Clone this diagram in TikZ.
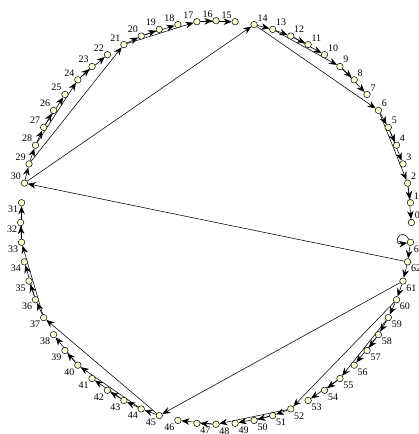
\documentclass[tikz,border=0pt]{standalone}
\usepackage{fontspec}
\setmainfont{Liberation Serif}
\usetikzlibrary{arrows.meta,backgrounds}
\definecolor{vfill}{HTML}{FFFDD8}
\tikzset{
  vtx/.style={draw, circle, fill=vfill, minimum size=6.5pt, inner sep=0pt, line width=0.5pt},
  lbl/.style={font=\fontsize{10}{12}\selectfont, inner sep=0.8pt},
  arr/.style={-{Stealth[length=8pt, width=6.5pt]}, line width=0.55pt},
}
\begin{document}
\begin{tikzpicture}[x=1pt, y=1pt]
\useasboundingbox (0,0) rectangle (418,434);
% 64 vertices round the ring, label corner set by quarter
\foreach \lo/\hi/\side in {0/14/above right, 15/30/above left, 31/46/below left, 47/63/below right}
  \foreach \i in {\lo,...,\hi}
    \node[vtx, label={[lbl]\side:\i}] (n\i) at ({216+195.4*cos(5.625*\i)}, {211.5+201.8*sin(5.625*\i)}) {};
\begin{scope}[on background layer]
% each inner vertex r points to r-1 and to r-s
\foreach \r/\s in {62/32, 30/16, 61/16, 14/8, 29/8, 45/8, 60/8,
    6/4, 13/4, 21/4, 28/4, 37/4, 44/4, 52/4, 59/4,
    2/2, 5/2, 9/2, 12/2, 17/2, 20/2, 24/2, 27/2, 33/2, 36/2, 40/2, 43/2, 48/2, 51/2, 55/2, 58/2}{
  \pgfmathtruncatemacro\ca{\r-1}
  \pgfmathtruncatemacro\cb{\r-\s}
  \draw[arr] (n\r) -- (n\ca);
  \draw[arr] (n\r) -- (n\cb);
}
\draw[arr] (n63) -- (n62);
\draw[arr] (n63) to[out=120, in=190, looseness=1, min distance=16pt] (n63);
\end{scope}
\end{tikzpicture}
\end{document}
